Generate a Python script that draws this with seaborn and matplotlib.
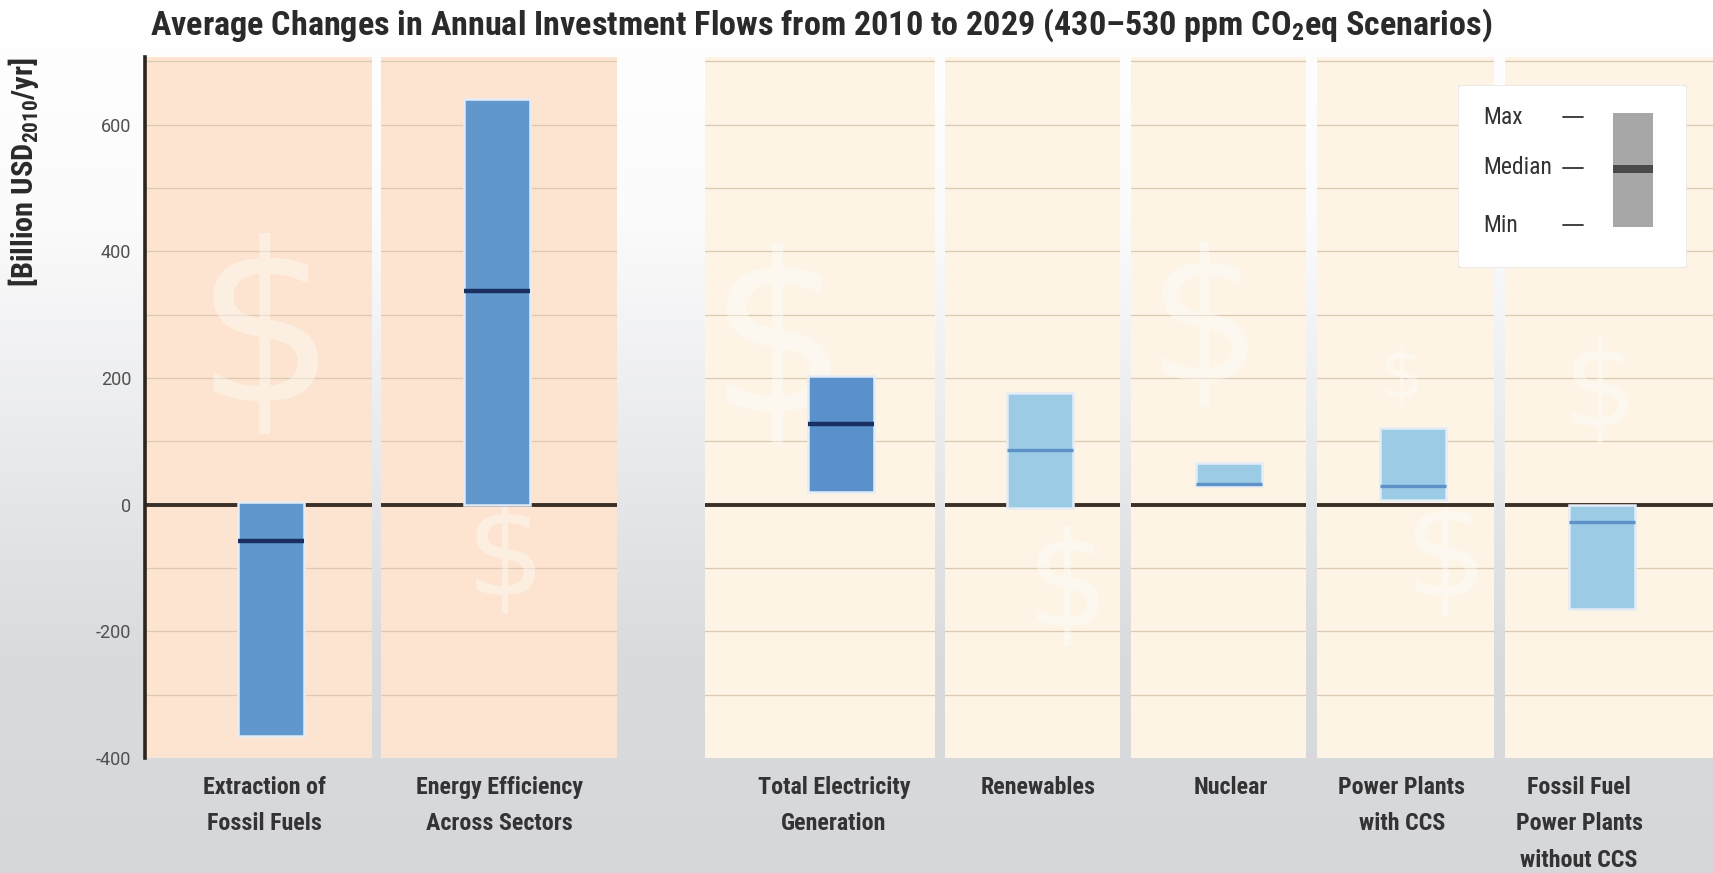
import numpy as np
import matplotlib
matplotlib.use("Agg")
import matplotlib.pyplot as plt
import seaborn as sns
import pandas as pd
from matplotlib import font_manager
from matplotlib.colors import LinearSegmentedColormap
from matplotlib.patches import FancyBboxPatch, Rectangle

# ---------------- data ----------------
categories = ["Extraction of\nFossil Fuels", "Energy Efficiency\nAcross Sectors",
              "Total Electricity\nGeneration", "Renewables", "Nuclear",
              "Power Plants\nwith CCS", "Fossil Fuel\nPower Plants\nwithout CCS"]
min_vals = [-366, 0, 20, -5, 29, 7, -165]
max_vals = [5, 641, 204, 176, 66, 121, 0]
median_vals = [-57, 337, 127, 86, 32, 30, -28]
y_ticks = [-400, -200, 0, 200, 400, 600]
title = "Average Changes in Annual Investment Flows from 2010 to 2029 (430–530 ppm CO$_\\mathbf{2}$eq Scenarios)"
y_label = "[Billion USD$_\\mathbf{2010}$/yr]"
legend_labels = ["Max", "Median", "Min"]

# ---------------- style / layout ----------------
sns.set_theme(style="white")
ttf = font_manager.fontManager.ttflist
names = {f.name for f in ttf}
base = "Roboto"
for cand in ["Roboto Condensed", "Liberation Sans Narrow", "Open Sans Condensed",
             "Noto Sans Condensed", "Roboto"]:
    if cand in names:
        base = cand
        break
plt.rcParams["font.family"] = [base, "DejaVu Sans"]
plt.rcParams["mathtext.fontset"] = "custom"
plt.rcParams["mathtext.rm"] = base
plt.rcParams["mathtext.bf"] = base + ":bold"

W, H = 1713, 873
panel_px = [(145, 372), (381, 617), (705, 935), (945, 1120), (1131, 1306), (1317, 1494), (1505, 1713)]
bar_center_px = [271, 497, 841, 1040, 1229, 1413, 1602]
label_center_px = [264, 499, 834, 1038, 1231, 1402, 1579]
bar_px = 66
top_px, bot_px = 57, 758
ylim = (-400, 707)
panel_colors = ["#fde4d0", "#fde4d0"] + ["#fdf4e5"] * 5
bar_colors = ["#6297cd", "#6297cd", "#5b91ca", "#9ccbe6", "#9ccbe6", "#9ccbe6", "#9ccbe6"]
median_colors = ["#1c2f63", "#1c2f63", "#1c2f63", "#5d92c9", "#5d92c9", "#5d92c9", "#5d92c9"]
median_lw = [3.2, 3.2, 3.2, 2.4, 2.4, 2.4, 2.4]
bw = 0.6

fig = plt.figure(figsize=(W / 100, H / 100), dpi=100)
renderer = fig.canvas.get_renderer()


def fit_size(text_str, target_px, weight="bold", start=20.0):
    t = fig.text(0, 0, text_str, fontsize=start, fontweight=weight)
    w = t.get_window_extent(renderer=renderer).width
    t.remove()
    return start * target_px / w


# background gradient
bg = fig.add_axes([0, 0, 1, 1], zorder=-10)
grad = np.linspace(0, 1, 256).reshape(-1, 1)
cmap = LinearSegmentedColormap.from_list("bg", ["#ffffff", "#fbfbfc", "#eaebed", "#dadbdf", "#d5d7db"])
bg.imshow(grad, aspect="auto", cmap=cmap, extent=[0, 1, 0, 1], origin="upper")
bg.set_axis_off()

dollar_specs = [  # (panel index, x px, y px, fontsize)
    (0, 265, 340, 160), (1, 505, 560, 90), (2, 778, 350, 160), (3, 1068, 590, 95),
    (4, 1205, 330, 130), (5, 1402, 377, 48), (5, 1446, 560, 95), (6, 1600, 395, 85)]

xlab_size = fit_size("Total Electricity", 152)

axes = []
for i, cat in enumerate(categories):
    l, r = panel_px[i]
    ax = fig.add_axes([l / W, 1 - bot_px / H, (r - l) / W, (bot_px - top_px) / H])
    ax.set_facecolor(panel_colors[i])
    df = pd.DataFrame({"cat": [cat], "span": [max_vals[i] - min_vals[i]]})
    sns.barplot(data=df, x="cat", y="span", bottom=min_vals[i], color=bar_colors[i],
                saturation=1, width=bw, ax=ax, edgecolor="#e4edf6", linewidth=1.8, zorder=4)
    p = ax.patches[0]
    ax.hlines(median_vals[i], p.get_x(), p.get_x() + p.get_width(),
              color=median_colors[i], lw=median_lw[i], zorder=5)
    for g in range(-300, 701, 100):
        if g != 0:
            ax.axhline(g, color="#dcc9b2", lw=0.9, zorder=1)
    ax.axhline(0, color="#3a3027", lw=2.8, zorder=3)
    s = bw / bar_px
    ax.set_xlim((l - bar_center_px[i]) * s, (r - bar_center_px[i]) * s)
    ax.set_xticks([(label_center_px[i] - bar_center_px[i]) * s])
    ax.set_xticklabels([cat])
    ax.set_ylim(*ylim)
    ax.set_xlabel("")
    ax.set_ylabel("")
    for sp in ax.spines.values():
        sp.set_visible(False)
    ax.tick_params(axis="x", length=0, pad=13, labelsize=xlab_size, labelcolor="#333333")
    for t in ax.get_xticklabels():
        t.set_fontweight("bold")
        t.set_linespacing(1.74)
        t.set_verticalalignment("top")
    if i == 0:
        ax.set_yticks(y_ticks)
        ax.set_yticklabels([str(v) for v in y_ticks], fontsize=13, color="#505050", family="Roboto")
        ax.tick_params(axis="y", length=0, pad=10)
        ax.spines["left"].set_visible(True)
        ax.spines["left"].set_color("#2b241f")
        ax.spines["left"].set_linewidth(2.6)
        ax.spines["left"].set_zorder(6)
    else:
        ax.set_yticks([])
    axes.append(ax)

for pi, xpx, ypx, fs in dollar_specs:
    t = axes[pi].text(xpx / W, 1 - ypx / H, "$", transform=fig.transFigure, ha="center", va="center",
                      fontsize=fs, color="white", alpha=0.4, zorder=2, family="DejaVu Sans")
    t.set_clip_on(True)

# title and y label
title_size = fit_size(title, 1341)
fig.text(150 / W, 1 - 25 / H, title, ha="left", va="center", fontsize=title_size,
         fontweight="bold", color="#2a2a2a")
ylab_size = fit_size(y_label, 230)
fig.text(24 / W, 1 - 172 / H, y_label, rotation=90, ha="center", va="center", fontsize=ylab_size,
         fontweight="bold", color="#2a2a2a")

# legend box
lax = fig.add_axes([1458 / W, 1 - 268 / H, (1687 - 1458) / W, (268 - 85) / H], zorder=10)
lax.set_xlim(0, 1)
lax.set_ylim(0, 1)
lax.set_axis_off()
lax.add_patch(FancyBboxPatch((0.0, 0.0), 1, 1, boxstyle="round,pad=0,rounding_size=0.02",
                             facecolor="white", edgecolor="#ebe6df", lw=1.2, transform=lax.transAxes))
ly = [(268 - 117) / 183, (268 - 168) / 183, (268 - 225) / 183]
for lab, yy in zip(legend_labels, ly):
    lax.text((1483 - 1458) / 229, yy, lab, ha="left", va="center", fontsize=17, color="#333333")
    lax.plot([(1563 - 1458) / 229, (1583 - 1458) / 229], [yy, yy], color="#333333", lw=1.3)
lax.add_patch(Rectangle(((1613 - 1458) / 229, (268 - 227) / 183), 40 / 229, 114 / 183,
                        facecolor="#a7a7a7", edgecolor="none"))
lax.add_patch(Rectangle(((1613 - 1458) / 229, (268 - 173) / 183), 40 / 229, 8 / 183,
                        facecolor="#4a4a4a", edgecolor="none"))

fig.savefig("out.png", dpi=100)
